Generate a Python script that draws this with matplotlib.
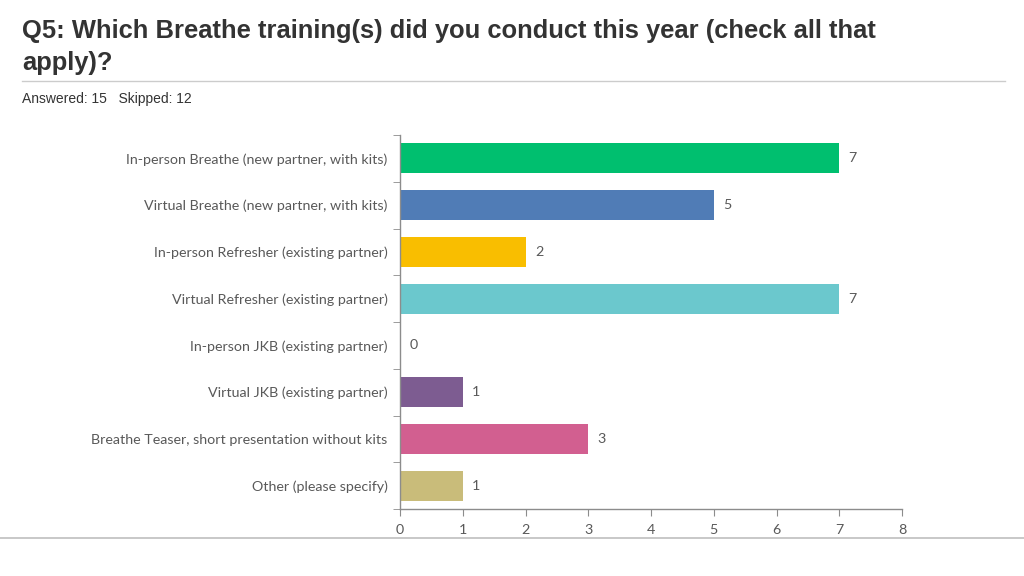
import matplotlib.pyplot as plt
import numpy as np

categories = [
    'In-person Breathe (new partner, with kits)',
    'Virtual Breathe (new partner, with kits)',
    'In-person Refresher (existing partner)',
    'Virtual Refresher (existing partner)',
    'In-person JKB (existing partner)',
    'Virtual JKB (existing partner)',
    'Breathe Teaser, short presentation without kits',
    'Other (please specify)',
]
values = [7, 5, 2, 7, 0, 1, 3, 1]
colors = ['#00BF6F', '#507CB6', '#F9BE00', '#6BC8CD', '#FFFFFF', '#7D5C91', '#D25F90', '#C9BC7A']
xticks = [0, 1, 2, 3, 4, 5, 6, 7, 8]

title_font = ['Liberation Sans Narrow', 'Liberation Sans', 'DejaVu Sans']
label_font = ['Lato', 'DejaVu Sans']
axis_gray = '#8C8C8C'
text_gray = '#595959'

fig = plt.figure(figsize=(10.24, 5.76), dpi=100)
ax = fig.add_axes([400 / 1024, 67 / 576, 502 / 1024, 374 / 576])

y = np.arange(len(categories))
ax.barh(y, values, height=0.64, color=colors, edgecolor='none')
for yi, v in zip(y, values):
    ax.text(v + 0.15, yi, str(v), va='center', ha='left', fontsize=10.3,
            color=text_gray, family=label_font)

ax.set_xlim(0, 8)
ax.set_ylim(len(categories) - 0.5, -0.5)
ax.set_xticks(xticks)
ax.set_xticklabels([str(t) for t in xticks], family=label_font, fontsize=10.3, color=text_gray)
ax.set_yticks(y)
ax.set_yticklabels(categories, family=label_font, fontsize=10.3, color=text_gray)
# tick marks sit between the bars
ax.set_yticks(np.arange(-0.5, len(categories)), minor=True)
ax.tick_params(axis='y', which='major', length=0, pad=9)
ax.tick_params(axis='y', which='minor', length=5, color=axis_gray, direction='out')
ax.tick_params(axis='x', length=5, color=axis_gray, direction='out', pad=6)

for side in ['top', 'right']:
    ax.spines[side].set_visible(False)
for side in ['left', 'bottom']:
    ax.spines[side].set_color(axis_gray)
    ax.spines[side].set_linewidth(1.0)

# header
fig.text(22 / 1024, 1 - 19 / 576, 'Q5: Which Breathe training(s) did you conduct this year (check all that\napply)?',
         ha='left', va='top', fontsize=18.4, fontweight='bold', color='#333333',
         family=title_font, linespacing=1.4)
fig.add_artist(plt.Line2D([22 / 1024, 1005 / 1024], [1 - 81 / 576, 1 - 81 / 576],
                          color='#CCCCCC', lw=1))
fig.text(22 / 1024, 1 - 99.5 / 576, 'Answered: 15   Skipped: 12', ha='left', va='center',
         fontsize=10, color='#333333', family=title_font)
fig.add_artist(plt.Line2D([0, 1], [1 - 538 / 576, 1 - 538 / 576], color='#BFBFBF', lw=1.2))

fig.savefig('out.png', dpi=100)
